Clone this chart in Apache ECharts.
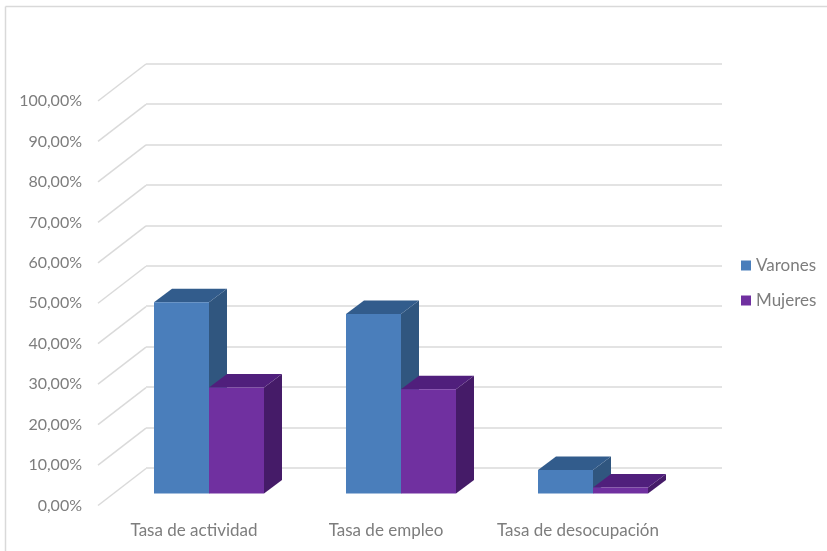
<!DOCTYPE html>
<html><head><meta charset="utf-8">
<style>html,body{margin:0;padding:0;background:#fff}#c{width:827px;height:551px;filter:blur(0.45px)}</style>
<script src="https://cdn.jsdelivr.net/npm/echarts@6/dist/echarts.min.js"></script>
</head><body><div id="c"></div>
<script>
const categories = ['Tasa de actividad', 'Tasa de empleo', 'Tasa de desocupación'];
const varones = [47.3, 44.4, 5.8];
const mujeres = [26.2, 25.8, 1.5];
const ticks = [0, 10, 20, 30, 40, 50, 60, 70, 80, 90, 100];
const textColor = '#7d7d7d', gridColor = '#dadada', font = 'Lato';
const wall = {dx: 48, dy: 37};      // oblique offset of the back wall
const bar = {dx: 18, dy: 13.5, inset: 15, lift: 12};   // oblique bar depth and floor inset

const chart = echarts.init(document.getElementById('c'), null, {renderer: 'canvas'});

function barItem(pos, front, side, top) {
  return function (params, api) {
    const base = api.coord([api.value(0), 0]);
    const tip = api.coord([api.value(0), api.value(1)]);
    const w = api.size([1, 0])[0] * 55 / 192;
    const x0 = base[0] + bar.inset + pos * w, x1 = x0 + w;
    const y0 = base[1] - bar.lift, y1 = tip[1] - bar.lift;
    const poly = (pts, fill) => ({type: 'polygon', shape: {points: pts}, style: {fill: fill}});
    return {type: 'group', children: [
      poly([[x1, y0], [x1 + bar.dx, y0 - bar.dy], [x1 + bar.dx, y1 - bar.dy], [x1, y1]], side),
      poly([[x0, y1], [x1, y1], [x1 + bar.dx, y1 - bar.dy], [x0 + bar.dx, y1 - bar.dy]], top),
      poly([[x0, y0], [x1, y0], [x1, y1], [x0, y1]], front)
    ]};
  };
}

chart.setOption({
  animation: false,
  backgroundColor: '#fff',
  textStyle: {fontFamily: font},
  graphic: [
    {type: 'line', silent: true, shape: {x1: 5.5, y1: 6.5, x2: 827, y2: 6.5}, style: {stroke: '#d9d9d9', lineWidth: 1.5}},
    {type: 'line', silent: true, shape: {x1: 5.5, y1: 6.5, x2: 5.5, y2: 551}, style: {stroke: '#d9d9d9', lineWidth: 1.5}}
  ],
  legend: {
    show: true, orient: 'vertical', left: 736, top: 252, itemWidth: 10, itemHeight: 10, itemGap: 18,
    icon: 'rect', data: ['Varones', 'Mujeres'],
    textStyle: {color: textColor, fontSize: 17, fontFamily: font}
  },
  grid: [
    {left: 98, top: 101, width: 576, height: 404.5},
    {left: 146, top: 63.5, width: 576, height: 404.5}
  ],
  xAxis: [
    {type: 'category', gridIndex: 0, data: categories, axisLine: {show: false}, axisTick: {show: false},
     axisLabel: {color: textColor, fontSize: 17, margin: 17, fontFamily: font, interval: 0, hideOverlap: false}},
    {type: 'value', gridIndex: 1, min: 0, max: 1, axisLine: {show: false}, axisTick: {show: false},
     axisLabel: {show: false}, splitLine: {show: false}}
  ],
  yAxis: [
    {type: 'value', gridIndex: 0, min: 0, max: 100, interval: 10, axisLine: {show: false}, axisTick: {show: false},
     splitLine: {show: false},
     axisLabel: {color: textColor, fontSize: 16, margin: 16, fontFamily: font,
       formatter: v => v.toFixed(2).replace('.', ',') + '%'}},
    {type: 'value', gridIndex: 1, min: 0, max: 100, interval: 10, axisLine: {show: false}, axisTick: {show: false},
     axisLabel: {show: false}, splitLine: {show: true, lineStyle: {color: gridColor, width: 1.5}}}
  ],
  series: [
    {type: 'custom', name: 'wall', xAxisIndex: 0, yAxisIndex: 0, silent: true, z: 1,
     data: ticks.map(v => [0, v]),
     renderItem: function (params, api) {
       const p = api.coord([0, api.value(1)]);
       const x = params.coordSys.x;
       return {type: 'line', shape: {x1: x, y1: p[1], x2: x + wall.dx, y2: p[1] - wall.dy},
               style: {stroke: gridColor, lineWidth: 1.5}};
     }},
    {type: 'custom', name: 'Varones', xAxisIndex: 0, yAxisIndex: 0, z: 2,
     itemStyle: {color: '#4a7ebb'},
     data: varones.map((v, i) => [i, v]),
     renderItem: barItem(-1, '#4a7ebb', '#30567f', '#325c8c')},
    {type: 'custom', name: 'Mujeres', xAxisIndex: 0, yAxisIndex: 0, z: 3,
     itemStyle: {color: '#7030a0'},
     data: mujeres.map((v, i) => [i, v]),
     renderItem: barItem(0, '#7030a0', '#451b68', '#501f7c')}
  ]
});
</script></body></html>
